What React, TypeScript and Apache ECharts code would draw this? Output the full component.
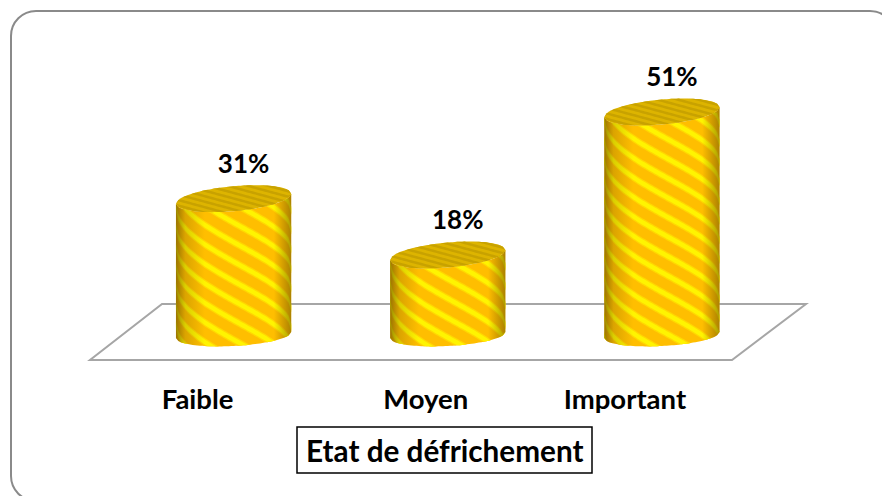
import React, { useEffect, useRef } from "react";
import * as echarts from "echarts";

const categories = ["Faible", "Moyen", "Important"];
const values = [31, 18, 51];
const titleText = "Etat de défrichement";
const FONT = "Lato";

function edge(cy: number, s: number, b: number, u: number, sign: number) {
  return cy - s * u + sign * b * Math.sqrt(Math.max(0, 1 - u * u));
}

function renderCylinder(params: any, api: any) {
  const cat = api.value(0);
  const val = api.value(1);
  const top = api.coord([cat, val]);
  const base = api.coord([cat, 0]);
  const R = api.size([1, 0])[0] * 0.269;
  const cx = top[0];
  const cyT = top[1];
  const cyB = base[1] + 2;
  const sT = 5, bT = 12.5, sB = 3, bB = 11;
  const N = 48;
  const us: number[] = [];
  for (let i = 0; i <= N; i++) us.push(-1 + (2 * i) / N);
  const X = (u: number) => cx + R * u;
  const upper = (u: number) => edge(cyT, sT, bT, u, 1);
  const lower = (u: number) => edge(cyB, sB, bB, u, 1);

  const children: any[] = [];
  const body = [
    ...us.map((u) => [X(u), upper(u)]),
    ...us.slice().reverse().map((u) => [X(u), lower(u)]),
  ];
  children.push({ type: "polygon", shape: { points: body }, style: { fill: "#FFBE00" } });

  const band = (y0: number, h: number, fill: string) => {
    const path = (d: number) => (u: number) => y0 + d + 32 * Math.asin(u) + 4 * Math.sqrt(Math.max(0, 1 - u * u));
    const a = path(0), c = path(h);
    const up = us.map((u) => [X(u), Math.min(lower(u), Math.max(upper(u), a(u)))]);
    const lo = us.slice().reverse().map((u) => [X(u), Math.min(lower(u), Math.max(upper(u), c(u)))]);
    return { type: "polygon", shape: { points: [...up, ...lo] }, style: { fill } };
  };
  const period = 19.5;
  for (let y = cyT - 80; y < cyB + 80; y += period) {
    children.push(band(y - 1.5, 8, "#FFD800"));
    children.push(band(y, 5, "#FFF400"));
  }
  children.push({
    type: "polygon",
    shape: { points: body },
    style: {
      fill: new echarts.graphic.LinearGradient(0, 0, 1, 0, [
        { offset: 0, color: "rgba(90,70,0,0.6)" },
        { offset: 0.08, color: "rgba(90,70,0,0.22)" },
        { offset: 0.25, color: "rgba(90,70,0,0)" },
        { offset: 0.85, color: "rgba(90,70,0,0)" },
        { offset: 1, color: "rgba(90,70,0,0.5)" },
      ]),
    },
  });

  const lidU = (u: number) => edge(cyT, sT, bT, u, -1);
  const lidL = (u: number) => edge(cyT, sT, bT, u, 1);
  const lid = [
    ...us.map((u) => [X(u), lidU(u)]),
    ...us.slice().reverse().map((u) => [X(u), lidL(u)]),
  ];
  children.push({ type: "polygon", shape: { points: lid }, style: { fill: "#DDB400" } });
  for (let y = cyT - 40; y < cyT + 40; y += 5.5) {
    const line = (d: number) => (u: number) => y + d + 0.27 * R * u;
    const a = line(0), c = line(2.6);
    const up = us.map((u) => [X(u), Math.min(lidL(u), Math.max(lidU(u), a(u)))]);
    const lo = us.slice().reverse().map((u) => [X(u), Math.min(lidL(u), Math.max(lidU(u), c(u)))]);
    children.push({ type: "polygon", shape: { points: [...up, ...lo] }, style: { fill: "#C8A200" } });
  }
  children.push({
    type: "text",
    style: {
      text: `${val}%`,
      x: cx + 10,
      y: cyT - 36,
      align: "center",
      verticalAlign: "middle",
      fill: "#000",
      font: `bold 26px ${FONT}`,
    },
  });
  return { type: "group", children };
}

export default function App() {
  const ref = useRef<HTMLDivElement>(null);
  useEffect(() => {
    const chart = echarts.init(ref.current!, undefined, { renderer: "svg" });
    const labelStyle = { fontFamily: FONT, fontWeight: "bold", fontSize: 27.5, color: "#000" };
    chart.setOption({
      animation: false,
      backgroundColor: "#fff",
      title: {
        text: titleText,
        left: 297,
        top: 427,
        padding: [8, 9, 8, 9],
        borderColor: "#000",
        borderWidth: 1.5,
        textStyle: { fontFamily: FONT, fontWeight: "bold", fontSize: 29.7, color: "#000", lineHeight: 30 },
      },
      grid: { left: 126.5, right: 113, top: 73, bottom: 163 },
      xAxis: {
        type: "category",
        data: categories,
        axisLine: { show: false },
        axisTick: { show: false },
        axisLabel: {
          margin: 51,
          interval: 0,
          formatter: (v: string, i: number) => `{c${i}|${v}}`,
          rich: {
            c0: { ...labelStyle, padding: [0, 72, 0, 0] },
            c1: { ...labelStyle, padding: [0, 44, 0, 0] },
            c2: { ...labelStyle, padding: [0, 74, 0, 0] },
          },
        },
      },
      yAxis: { type: "value", min: 0, max: 60, show: false, splitLine: { show: false } },
      graphic: [
        {
          type: "rect",
          z: 0,
          shape: { x: 11, y: 11, width: 884, height: 490, r: 25 },
          style: { fill: "#fff", stroke: "#8A8A8A", lineWidth: 2 },
        },
        {
          type: "polygon",
          z: 1,
          shape: { points: [[162, 304], [806, 304], [732, 360], [90, 360]] },
          style: { fill: "#fff", stroke: "#A6A6A6", lineWidth: 2 },
        },
      ],
      series: [
        {
          type: "custom",
          z: 5,
          renderItem: renderCylinder,
          encode: { x: 0, y: 1 },
          data: values.map((v, i) => [i, v]),
          clip: false,
        },
      ],
    });
    return () => chart.dispose();
  }, []);
  return <div ref={ref} style={{ position: "fixed", left: 0, top: 0, width: 882, height: 496 }} />;
}
